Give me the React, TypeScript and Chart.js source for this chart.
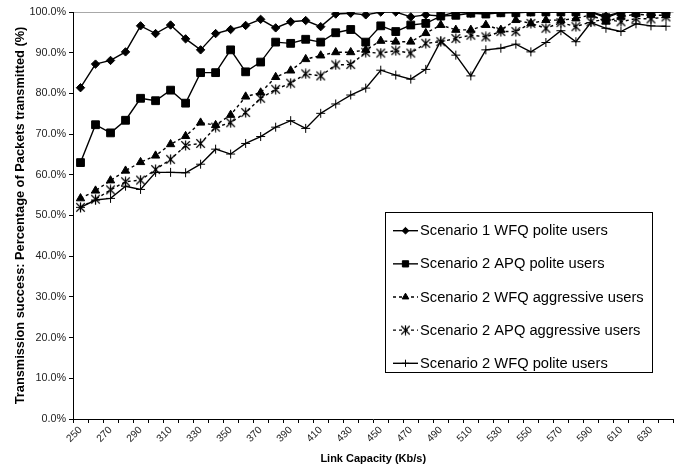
import React, { useEffect, useRef } from 'react';
import { Chart, registerables } from 'chart.js';
import { drawPoint } from 'chart.js/helpers';

Chart.register(...registerables);

const categories = ['250','260','270','280','290','300','310','320','330','340','350','360','370','380','390','400','410','420','430','440','450','460','470','480','490','500','510','520','530','540','550','560','570','580','590','600','610','620','630','640'];
const shownTickLabels = ['250','270','290','310','330','350','370','390','410','430','450','470','490','510','530','550','570','590','610','630'];

const seriesNames = [
  'Scenario 1 WFQ polite users',
  'Scenario 2 APQ polite users',
  'Scenario 2 WFQ aggressive users',
  'Scenario 2 APQ aggressive users',
  'Scenario 2 WFQ polite users',
];

const s1WfqPolite = [81.4, 87.2, 88.1, 90.2, 96.6, 94.7, 96.8, 93.4, 90.7, 94.7, 95.7, 96.7, 98.2, 96.1, 97.6, 97.9, 96.4, 99.5, 99.7, 99.3, 100, 100, 98.8, 99.3, 99.0, 100, 99.7, 100, 99.8, 100, 100, 100, 100, 100, 100, 99.0, 100, 100, 100, 100];
const s2ApqPolite = [63.0, 72.3, 70.3, 73.4, 78.8, 78.2, 80.8, 77.6, 85.1, 85.1, 90.7, 85.3, 87.7, 92.6, 92.3, 93.3, 92.6, 94.9, 95.7, 92.6, 96.6, 95.2, 96.8, 97.2, 99.0, 99.2, 99.7, 99.5, 99.8, 99.8, 100, 100, 100, 100, 100, 98.6, 100, 100, 100, 100];
const s2WfqAggressive = [54.2, 56.1, 58.6, 61.0, 63.1, 64.7, 67.5, 69.5, 72.8, 72.2, 74.7, 79.2, 80.2, 84.0, 85.6, 88.4, 89.3, 90.1, 90.1, 90.7, 92.9, 92.7, 92.7, 94.8, 96.8, 95.6, 95.6, 96.8, 95.6, 98.0, 97.2, 98.0, 98.0, 98.4, 99.3, 97.6, 98.8, 99.5, 99.2, 99.2];
const s2ApqAggressive = [52.0, 54.0, 56.3, 58.3, 58.7, 61.3, 63.8, 67.2, 67.7, 71.7, 72.8, 75.3, 78.8, 81.0, 82.5, 84.8, 84.3, 87.0, 87.1, 90.1, 89.9, 90.5, 89.9, 92.3, 92.7, 93.5, 94.3, 93.9, 95.2, 95.2, 97.2, 96.0, 97.4, 96.4, 97.6, 98.2, 97.6, 98.4, 98.3, 98.8];
const s2WfqPolite = [52.0, 53.8, 54.2, 57.2, 56.4, 60.6, 60.6, 60.5, 62.6, 66.3, 65.1, 67.7, 69.4, 71.7, 73.3, 71.4, 75.1, 77.4, 79.6, 81.3, 85.7, 84.5, 83.5, 85.9, 92.9, 89.4, 84.3, 90.7, 91.1, 92.1, 90.2, 92.5, 95.4, 92.7, 97.4, 96.0, 95.2, 97.1, 96.6, 96.5];

const yTicks = [0, 10, 20, 30, 40, 50, 60, 70, 80, 90, 100];

const FONT = '"Liberation Sans", Arial, Helvetica, sans-serif';

function makeAsterisk(size: number): HTMLCanvasElement {
  const c = document.createElement('canvas');
  c.width = size;
  c.height = size;
  const g = c.getContext('2d')!;
  g.strokeStyle = '#000';
  g.lineWidth = 1.2;
  const m = size / 2;
  const r = size / 2 - 0.5;
  g.beginPath();
  g.moveTo(m, m - r); g.lineTo(m, m + r);
  const d = r * 0.85;
  g.moveTo(m - d, m - d); g.lineTo(m + d, m + d);
  g.moveTo(m + d, m - d); g.lineTo(m - d, m + d);
  g.stroke();
  return c;
}

const legendPlugin = {
  id: 'boxLegend',
  afterDraw(chart: any) {
    const ctx = chart.ctx;
    const x0 = 385.5, y0 = 212.5, w = 267, h = 160;
    ctx.save();
    ctx.fillStyle = '#fff';
    ctx.fillRect(x0, y0, w, h);
    ctx.strokeStyle = '#000';
    ctx.lineWidth = 1;
    ctx.setLineDash([]);
    ctx.strokeRect(x0, y0, w, h);
    chart.data.datasets.forEach((ds: any, i: number) => {
      const y = 230.7 + i * 33.15;
      ctx.save();
      ctx.strokeStyle = '#000';
      ctx.lineWidth = ds.borderWidth;
      ctx.setLineDash(ds.borderDash || []);
      ctx.beginPath();
      ctx.moveTo(393, y);
      ctx.lineTo(418, y);
      ctx.stroke();
      ctx.restore();
      ctx.save();
      ctx.fillStyle = '#000';
      ctx.strokeStyle = '#000';
      ctx.lineWidth = 1;
      ctx.setLineDash([]);
      drawPoint(ctx, { pointStyle: ds.pointStyle, radius: ds.pointRadius * 0.8, rotation: 0, borderWidth: 1 }, 405.5, y);
      ctx.restore();
      ctx.fillStyle = '#000';
      ctx.font = `14.7px ${FONT}`;
      ctx.textBaseline = 'middle';
      ctx.textAlign = 'left';
      ctx.fillText(seriesNames[i], 420, y + 0.5);
    });
    ctx.restore();
  },
};

export default function App() {
  const ref = useRef<HTMLCanvasElement | null>(null);
  useEffect(() => {
    if (!ref.current) return;
    const star = makeAsterisk(11);
    const base = {
      borderColor: '#000',
      backgroundColor: '#000',
      pointBackgroundColor: '#000',
      pointBorderColor: '#000',
      borderWidth: 1.4,
      pointBorderWidth: 1,
      tension: 0,
    };
    const chart = new Chart(ref.current, {
      type: 'line',
      data: {
        labels: categories,
        datasets: [
          { ...base, label: seriesNames[0], data: s1WfqPolite, pointStyle: 'rectRot', pointRadius: 4.2 },
          { ...base, label: seriesNames[1], data: s2ApqPolite, pointStyle: 'rect', pointRadius: 5.5 },
          { ...base, label: seriesNames[2], data: s2WfqAggressive, pointStyle: 'triangle', pointRadius: 4.8, borderDash: [3, 3] },
          { ...base, label: seriesNames[3], data: s2ApqAggressive, pointStyle: star as any, pointRadius: 5, borderDash: [3, 3] },
          { ...base, label: seriesNames[4], data: s2WfqPolite, pointStyle: 'cross', pointRadius: 4.5 },
        ] as any,
      },
      options: {
        animation: false,
        responsive: true,
        maintainAspectRatio: false,
        events: [],
        layout: { padding: { left: 0, right: 2, top: 12, bottom: 0 } },
        plugins: {
          legend: { display: false },
          tooltip: { enabled: false },
        },
        scales: {
          x: {
            type: 'category',
            offset: true,
            grid: { offset: true, drawOnChartArea: false, color: '#000', tickColor: '#000', tickLength: 4 },
            border: { display: true, color: '#000', width: 1 },
            ticks: {
              autoSkip: false,
              maxRotation: 45,
              minRotation: 45,
              padding: 1,
              color: '#222',
              font: { family: FONT, size: 10.3 },
              callback: (_v: any, i: number) => (shownTickLabels.includes(categories[i]) ? categories[i] : ''),
            },
            title: {
              display: true,
              text: 'Link Capacity (Kb/s)',
              color: '#000',
              font: { family: FONT, size: 11, weight: 'bold' },
              padding: { top: 0.5, bottom: 0 },
            },
            afterFit: (scale: any) => { scale.height = 47; },
          },
          y: {
            min: 0,
            max: 100,
            afterBuildTicks: (scale: any) => { scale.ticks = yTicks.map((v) => ({ value: v })); },
            grid: {
              drawOnChartArea: true,
              color: (c: any) => (c.tick && c.tick.value === 100 ? '#a8a8a8' : 'rgba(0,0,0,0)'),
              tickColor: '#000',
              tickLength: 4,
            },
            border: { display: true, color: '#000', width: 1 },
            ticks: {
              padding: 3,
              color: '#222',
              font: { family: FONT, size: 10.8 },
              callback: (v: any) => `${Number(v).toFixed(1)}%`,
            },
            title: {
              display: true,
              text: 'Transmission success: Percentage of Packets transmitted (%)',
              color: '#000',
              font: { family: FONT, size: 12.8, weight: 'bold' },
              padding: { top: 13, bottom: 0 },
            },
            afterFit: (scale: any) => { scale.width = 73; },
          },
        },
      } as any,
      plugins: [legendPlugin],
    });
    return () => chart.destroy();
  }, []);
  return (
    <div style={{ position: 'absolute', left: 0, top: 0, width: 680, height: 466, background: '#fff' }}>
      <canvas ref={ref} />
    </div>
  );
}
